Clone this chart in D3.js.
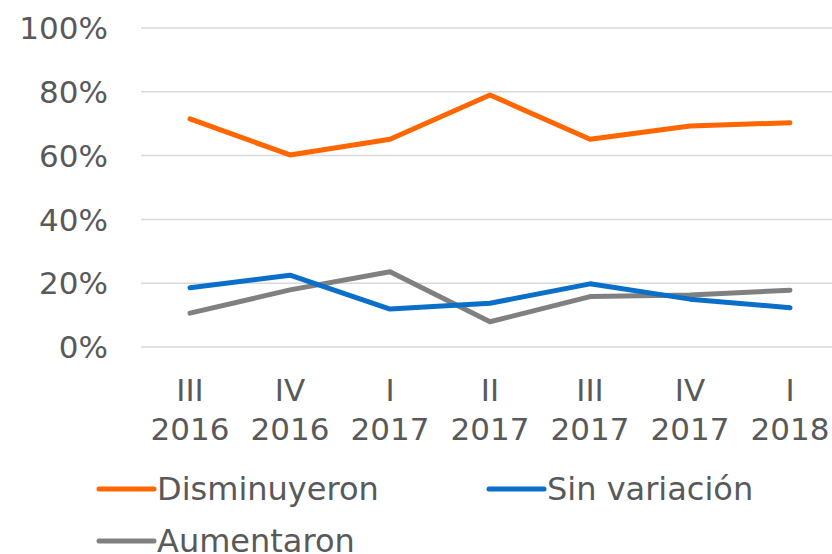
<!DOCTYPE html>
<html>
<head>
<meta charset="utf-8">
<script src="https://cdn.jsdelivr.net/npm/d3@7"></script>
<style>
  body { margin: 0; background: #fff; }
  svg text { font-family: Verdana, "DejaVu Sans", sans-serif; fill: #595959; }
</style>
</head>
<body>
<svg id="chart" width="832" height="554"></svg>
<script>
// quarters on the x axis
var quarters = ["III", "IV", "I", "II", "III", "IV", "I"];
var years    = ["2016", "2016", "2017", "2017", "2017", "2017", "2018"];
var yTicks   = [0, 20, 40, 60, 80, 100];

var disminuyeron = [71.5, 60.2, 65.1, 79.0, 65.1, 69.3, 70.3];
var sinVariacion = [18.6, 22.5, 11.9, 13.7, 19.8, 15.0, 12.3];
var aumentaron   = [10.6, 17.9, 23.6, 7.9, 15.8, 16.3, 17.8];

var series = [
    {name: "Disminuyeron",  values: disminuyeron, color: "#ff6600"},
    {name: "Sin variación", values: sinVariacion, color: "#0a6fc8"},
    {name: "Aumentaron",    values: aumentaron,   color: "#808080"}
];

var svg = d3.select("#chart");

var x = d3.scaleBand()
    .domain(d3.range(quarters.length))
    .range([140, 840]);

var y = d3.scaleLinear()
    .domain([0, 100])
    .range([347, 28]);

// gridlines
svg.append("g")
    .selectAll("line")
    .data(yTicks)
    .enter()
    .append("line")
    .attr("x1", 141)
    .attr("x2", 832)
    .attr("y1", d => y(d))
    .attr("y2", d => y(d))
    .attr("stroke", "#d9d9d9")
    .attr("stroke-width", 1.5);

// y tick labels
svg.append("g")
    .selectAll("text")
    .data(yTicks)
    .enter()
    .append("text")
    .attr("x", 108)
    .attr("y", d => y(d))
    .attr("dy", "0.36em")
    .attr("text-anchor", "end")
    .attr("font-size", 31)
    .text(d => d + "%");

// x tick labels, two lines each
var xl = svg.append("g")
    .selectAll("text")
    .data(quarters)
    .enter()
    .append("text")
    .attr("text-anchor", "middle")
    .attr("font-size", 31);
xl.append("tspan")
    .attr("x", (d, i) => x(i) + x.bandwidth() / 2)
    .attr("y", 401)
    .text(d => d);
xl.append("tspan")
    .attr("x", (d, i) => x(i) + x.bandwidth() / 2)
    .attr("y", 440)
    .text((d, i) => years[i]);

var line = d3.line()
    .x((d, i) => x(i) + x.bandwidth() / 2)
    .y(d => y(d));

// draw gray first so orange/blue sit on top like the original
svg.append("g")
    .selectAll("path")
    .data(series.slice().reverse())
    .enter()
    .append("path")
    .attr("d", d => line(d.values))
    .attr("fill", "none")
    .attr("stroke", d => d.color)
    .attr("stroke-width", 5)
    .attr("stroke-linejoin", "round")
    .attr("stroke-linecap", "round");

// legend
var legendPos = [[99, 489], [489, 489], [99, 541]];
var leg = svg.append("g")
    .selectAll("g")
    .data(series)
    .enter()
    .append("g")
    .attr("transform", (d, i) => "translate(" + legendPos[i][0] + "," + legendPos[i][1] + ")");
leg.append("line")
    .attr("x1", 0)
    .attr("x2", 55)
    .attr("stroke", d => d.color)
    .attr("stroke-width", 5)
    .attr("stroke-linecap", "round");
leg.append("text")
    .attr("x", 58)
    .attr("y", 11)
    .attr("font-size", 32)
    .text(d => d.name);
</script>
</body>
</html>
